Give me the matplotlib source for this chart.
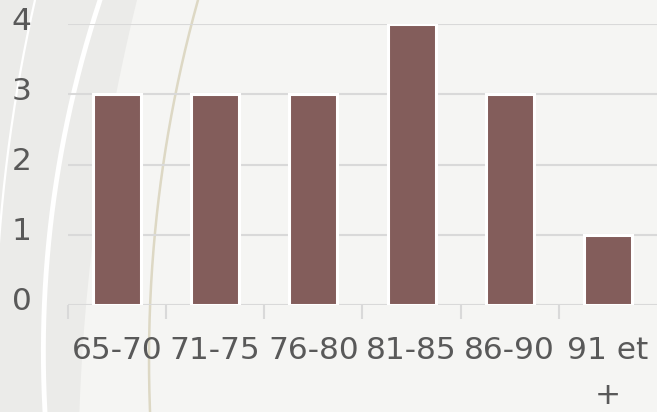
import numpy as np
import matplotlib
matplotlib.use("Agg")
import matplotlib.pyplot as plt
import matplotlib.transforms as mtransforms
from matplotlib.patches import Polygon

categories = ["65-70", "71-75", "76-80", "81-85", "86-90", "91 et\n+"]
values = [3, 3, 3, 4, 3, 1]
yticks = [0, 1, 2, 3, 4]

W, H = 657, 412
BG = "#F5F5F3"
BAND = "#EBEBE9"
BAR = "#835D5B"
GRID = "#D9D9D9"
TXT = "#595959"

fig = plt.figure(figsize=(W / 100, H / 100), dpi=100)
fig.patch.set_facecolor(BG)


def arc_x(p1, p2, p3, ys):
    # circle through three pixel points (x, y), return x for given y (left branch)
    (x1, y1), (x2, y2), (x3, y3) = p1, p2, p3
    A = np.array([[2 * (x2 - x1), 2 * (y2 - y1)], [2 * (x3 - x1), 2 * (y3 - y1)]])
    b = np.array([x2**2 - x1**2 + y2**2 - y1**2, x3**2 - x1**2 + y3**2 - y1**2])
    cx, cy = np.linalg.solve(A, b)
    r = np.hypot(x1 - cx, y1 - cy)
    return cx - np.sqrt(np.maximum(r**2 - (ys - cy) ** 2, 0))


ys = np.linspace(0, H, 300)
# grey band on the left
band_x = arc_x((137, 0), (115, 100), (84, 330), ys)
pts = [(0, 0)] + list(zip(band_x, ys)) + [(0, H)]
fig.patches.append(Polygon([(x / W, 1 - y / H) for x, y in pts], closed=True,
                           transform=fig.transFigure, facecolor=BAND, edgecolor="none", zorder=0))
# white arcs
wx1 = arc_x((100, 0), (72, 100), (45, 412), ys)
fig.add_artist(plt.Line2D(wx1 / W, 1 - ys / H, color="white", lw=3.5, transform=fig.transFigure, zorder=0.5))
wx2 = arc_x((35, 0), (2, 206), (-4, 412), ys)
fig.add_artist(plt.Line2D(wx2 / W, 1 - ys / H, color="white", lw=1.6, transform=fig.transFigure, zorder=0.5))
# tan arc
tx = arc_x((198, 0), (163, 166), (149, 360), ys)
fig.add_artist(plt.Line2D(tx / W, 1 - ys / H, color="#DDD8C4", lw=1.8, transform=fig.transFigure, zorder=0.5))

ax = fig.add_axes([68 / W, 107 / H, 589 / W, 281 / H])
ax.set_zorder(2)
ax.set_facecolor("none")
x = np.arange(len(categories))
ax.bar(x, values, width=0.49, color=BAR, edgecolor="white", linewidth=2.2, zorder=3)

ax.set_xlim(-0.5, len(categories) - 0.5)
ax.set_ylim(0, 4)
ax.set_yticks(yticks)
ax.set_yticklabels([str(t) for t in yticks])
for t in yticks[1:]:
    ax.axhline(t, color=GRID, lw=1.5, zorder=1)
ax.axhline(0, color=GRID, lw=1.5, zorder=1)
for s in ax.spines.values():
    s.set_visible(False)

ax.set_xticks(np.arange(-0.5, len(categories) - 0.5, 1.0), minor=True)
ax.set_xticks(x)
ax.set_xticklabels(categories, linespacing=1.7, va="top")
ax.tick_params(axis="x", which="minor", length=10, width=1.5, color=GRID)
ax.tick_params(axis="x", which="major", length=0, pad=22, labelsize=22.5, labelcolor=TXT)
ax.tick_params(axis="y", length=0, pad=26, labelsize=22.5, labelcolor=TXT)
shift = mtransforms.ScaledTranslation(0, 3 / 100, fig.dpi_scale_trans)
for lab in ax.get_yticklabels():
    lab.set_verticalalignment("center")
    lab.set_transform(lab.get_transform() + shift)

fig.savefig("out.png", dpi=100, facecolor=BG)
